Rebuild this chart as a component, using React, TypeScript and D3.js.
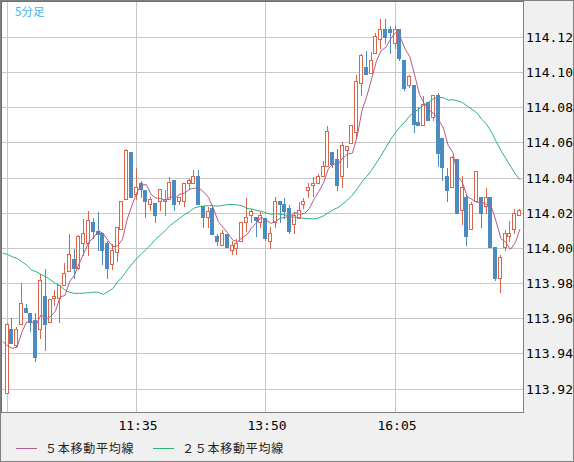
import React from 'react';
import * as d3 from 'd3';

// 5-minute candles starting at 09:20
const opens = [
  113.918, 113.954, 113.945, 113.957, 113.966, 113.963, 113.959, 113.954, 113.973, 113.958,
  113.972, 113.972, 113.979, 113.987, 113.994, 113.989, 114.003, 114.003, 114.015, 114.010,
  114.009, 114.003, 113.991, 113.998, 114.011, 114.028, 114.055, 114.031, 114.037, 114.033,
  114.025, 114.026, 114.027, 114.027, 114.028, 114.039, 114.027, 114.027, 114.037, 114.037,
  114.041, 114.024, 114.018, 114.023, 114.007, 114.002, 114.008, 113.999, 114.000, 114.004,
  114.015, 114.019, 114.018, 114.015, 114.017, 114.004, 114.015, 114.027, 114.025, 114.023,
  114.014, 114.017, 114.025, 114.033, 114.036, 114.037, 114.041, 114.047, 114.055, 114.051,
  114.041, 114.056, 114.060, 114.066, 114.094, 114.103, 114.100, 114.111, 114.119, 114.125,
  114.125, 114.117, 114.125, 114.107, 114.093, 114.093, 114.072, 114.070, 114.083, 114.075,
  114.087, 114.063, 114.041, 114.035, 114.051, 114.022, 114.029, 114.011, 114.027, 114.029,
  114.024, 114.029, 114.001, 113.983, 114.001, 114.007, 114.011, 114.019,
];
const highs = [
  113.958, 113.961, 113.956, 113.981, 113.969, 113.964, 113.964, 113.986, 113.989, 113.971,
  113.977, 113.980, 113.992, 114.009, 114.000, 114.008, 114.017, 114.022, 114.018, 114.021,
  114.009, 114.005, 114.003, 114.013, 114.027, 114.057, 114.055, 114.046, 114.039, 114.034,
  114.030, 114.026, 114.034, 114.034, 114.041, 114.039, 114.030, 114.037, 114.040, 114.045,
  114.045, 114.024, 114.024, 114.025, 114.009, 114.011, 114.009, 114.005, 114.006, 114.015,
  114.029, 114.023, 114.018, 114.021, 114.017, 114.013, 114.030, 114.027, 114.029, 114.025,
  114.021, 114.027, 114.029, 114.038, 114.041, 114.043, 114.050, 114.070, 114.055, 114.057,
  114.061, 114.058, 114.070, 114.099, 114.111, 114.113, 114.112, 114.123, 114.131, 114.131,
  114.127, 114.127, 114.125, 114.107, 114.099, 114.093, 114.081, 114.087, 114.083, 114.087,
  114.089, 114.063, 114.046, 114.053, 114.051, 114.042, 114.031, 114.027, 114.044, 114.029,
  114.035, 114.029, 114.001, 113.997, 114.011, 114.016, 114.023, 114.023,
];
const lows = [
  113.918, 113.946, 113.944, 113.957, 113.964, 113.953, 113.936, 113.949, 113.942, 113.958,
  113.968, 113.958, 113.979, 113.987, 113.983, 113.988, 113.996, 113.996, 114.006, 113.999,
  113.991, 113.983, 113.988, 113.993, 114.011, 114.028, 114.029, 114.028, 114.029, 114.018,
  114.022, 114.015, 114.022, 114.019, 114.028, 114.022, 114.025, 114.024, 114.034, 114.037,
  114.025, 114.012, 114.012, 114.008, 114.002, 114.002, 114.001, 113.997, 113.997, 114.004,
  114.010, 114.015, 114.007, 114.012, 114.005, 114.000, 114.012, 114.015, 114.017, 114.009,
  114.009, 114.017, 114.023, 114.029, 114.030, 114.037, 114.041, 114.047, 114.046, 114.033,
  114.035, 114.046, 114.060, 114.063, 114.087, 114.099, 114.100, 114.111, 114.114, 114.117,
  114.111, 114.114, 114.107, 114.090, 114.092, 114.066, 114.070, 114.070, 114.073, 114.073,
  114.047, 114.039, 114.027, 114.035, 114.020, 114.014, 114.002, 114.011, 114.027, 114.012,
  114.020, 114.001, 113.982, 113.975, 113.999, 114.004, 114.009, 114.019,
];
const closes = [
  113.957, 113.946, 113.954, 113.969, 113.964, 113.958, 113.938, 113.982, 113.957, 113.971,
  113.973, 113.979, 113.986, 113.997, 113.989, 114.007, 114.009, 114.016, 114.010, 114.008,
  113.999, 113.989, 113.999, 114.012, 114.027, 114.056, 114.029, 114.035, 114.034, 114.027,
  114.028, 114.019, 114.034, 114.028, 114.038, 114.025, 114.029, 114.037, 114.039, 114.041,
  114.025, 114.018, 114.021, 114.008, 114.004, 114.009, 114.001, 114.002, 114.003, 114.015,
  114.018, 114.021, 114.016, 114.019, 114.006, 114.009, 114.027, 114.025, 114.021, 114.010,
  114.019, 114.022, 114.027, 114.035, 114.037, 114.041, 114.047, 114.067, 114.048, 114.036,
  114.059, 114.058, 114.070, 114.095, 114.110, 114.099, 114.107, 114.121, 114.125, 114.120,
  114.123, 114.125, 114.108, 114.091, 114.098, 114.071, 114.070, 114.082, 114.073, 114.087,
  114.054, 114.046, 114.033, 114.052, 114.020, 114.035, 114.007, 114.025, 114.044, 114.020,
  114.029, 114.001, 113.983, 113.995, 114.009, 114.009, 114.020, 114.022,
];

// moving-average values before enough visible bars exist, index -1 onward
const ma5Head = [113.947, 113.9446, 113.9431, 113.9438, 113.9524];
const ma25Head = [
  113.9972, 113.9966, 113.9952, 113.9943, 113.9924, 113.9905, 113.9877, 113.9867, 113.9852, 113.9838,
  113.982, 113.9801, 113.9787, 113.9763, 113.975, 113.9744, 113.9744, 113.9746, 113.9747, 113.9751,
  113.975, 113.9738, 113.9754, 113.9772, 113.981,
];

const priceTicks = [113.92, 113.94, 113.96, 113.98, 114.0, 114.02, 114.04, 114.06, 114.08, 114.1, 114.12];
const timeGridIdx = [0, 27, 54, 81];
const timeLabelIdx = [27, 54, 81];
const timeLabels = ['11:35', '13:50', '16:05'];
const legendLabels = ['５本移動平均線', '２５本移動平均線'];
const periodLabel = '5分足';

const W = 574;
const H = 462;
const PL = 1, PT = 1, PR = 523, PB = 412;

const RED = '#dd6549';
const BLUE = '#4a8bc2';
const MA5C = '#b35c8c';
const MA25C = '#2db374';
const GRID = '#c8c8c8';
const FRAME = '#808080';

function movingAvg(period: number, head: number[]) {
  const pts: [number, number][] = [];
  head.forEach((v, k) => pts.push([k - 1, v]));
  const start = head.length - 1;
  for (let i = start; i < closes.length; i++) {
    const s = d3.sum(closes.slice(i - period + 1, i + 1));
    pts.push([i, s / period]);
  }
  return pts;
}

export default function App() {
  const x = d3.scaleLinear().domain([0, 81]).range([7, 395]);
  const y = d3.scaleLinear().domain([113.92, 114.12]).range([389, 37.4]);
  const px = (i: number) => Math.floor(x(i)) + 0.5;
  const py = (v: number) => Math.round(y(v)) + 0.5;

  const ma5 = movingAvg(5, ma5Head);
  const ma25 = movingAvg(25, ma25Head);
  const line = d3
    .line<[number, number]>()
    .x((d) => x(d[0]) + 0.5)
    .y((d) => y(d[1]));

  const mono = '"DejaVu Sans Mono", "Liberation Mono", monospace';
  const cjk = '"Noto Sans CJK JP", "Noto Sans", sans-serif';

  return (
    <svg
      width={W}
      height={H}
      style={{ position: 'fixed', left: 0, top: 0, display: 'block' }}
      xmlns="http://www.w3.org/2000/svg"
    >
      <defs>
        <clipPath id="plotClip">
          <rect x={PL + 1} y={PT + 1} width={PR - PL - 1} height={PB - PT - 1} />
        </clipPath>
      </defs>
      <rect x={0} y={0} width={W} height={H} fill="#f0f0f0" />
      <rect x={PL} y={PT} width={PR - PL} height={PB - PT} fill="#ffffff" />

      {/* grid */}
      <g shapeRendering="crispEdges">
        {priceTicks.map((t) => (
          <line key={t} x1={PL} x2={PR} y1={Math.floor(y(t)) + 0.5} y2={Math.floor(y(t)) + 0.5} stroke={GRID} strokeWidth={1} />
        ))}
        {timeGridIdx.map((i) => (
          <line key={i} x1={px(i)} x2={px(i)} y1={PT} y2={PB} stroke={GRID} strokeWidth={1} />
        ))}
      </g>

      {/* candles */}
      <g clipPath="url(#plotClip)" shapeRendering="crispEdges">
        {closes.map((c, i) => {
          const o = opens[i];
          const cx = px(i);
          const up = c >= o;
          const top = py(Math.max(o, c));
          let bot = py(Math.min(o, c));
          if (bot - top < 1) bot = top + 1;
          const yh = py(highs[i]);
          const yl = py(lows[i]);
          if (up) {
            return (
              <g key={i}>
                <line x1={cx} x2={cx} y1={yh} y2={yl} stroke={RED} strokeWidth={1} />
                <rect x={cx - 2} y={top} width={3} height={bot - top} fill="#ffffff" stroke={RED} strokeWidth={1} />
              </g>
            );
          }
          return (
            <g key={i}>
              <line x1={cx} x2={cx} y1={yh} y2={yl} stroke={BLUE} strokeWidth={1} />
              <rect x={cx - 2.5} y={top - 0.5} width={4} height={bot - top + 1} fill={BLUE} />
            </g>
          );
        })}
      </g>

      {/* moving averages */}
      <g clipPath="url(#plotClip)" fill="none">
        <path d={line(ma25) || ''} stroke={MA25C} strokeWidth={1} />
        <path d={line(ma5) || ''} stroke={MA5C} strokeWidth={1} />
      </g>

      {/* plot frame */}
      <g shapeRendering="crispEdges" fill="none">
        <line x1={PR + 0.5} x2={PR + 0.5} y1={PT} y2={PB + 1} stroke={FRAME} />
        <line x1={PL} x2={PR + 1} y1={PB + 0.5} y2={PB + 0.5} stroke={FRAME} />
        <line x1={PL + 0.5} x2={PL + 0.5} y1={0} y2={PB + 1} stroke="#6e6e6e" />
        <line x1={0} x2={PR + 1} y1={PT + 0.5} y2={PT + 0.5} stroke="#6e6e6e" />
        <rect x={0.5} y={0.5} width={W - 1} height={H - 1} stroke={FRAME} />
      </g>

      <text x={15} y={16} fill="#3fb3ec" fontSize={11.5} fontFamily={cjk}>
        {periodLabel}
      </text>

      {/* price labels */}
      {priceTicks.map((t) => (
        <text key={t} x={526} y={y(t) + 4.5} fontSize={13} fontFamily={mono} fill="#000">
          {t.toFixed(2)}
        </text>
      ))}

      {/* time labels */}
      {timeLabelIdx.map((i, k) => (
        <text key={i} x={px(i) + 1.5} y={430} textAnchor="middle" fontSize={13} fontFamily={mono} fill="#000">
          {timeLabels[k]}
        </text>
      ))}

      {/* legend */}
      <g>
        <line x1={16} x2={37} y1={448.5} y2={448.5} stroke={MA5C} strokeWidth={1} />
        <text x={45} y={453} fontSize={12} letterSpacing={0.75} fontFamily={cjk} fill="#222">
          {legendLabels[0]}
        </text>
        <line x1={153} x2={174} y1={448.5} y2={448.5} stroke={MA25C} strokeWidth={1} />
        <text x={182} y={453} fontSize={12} letterSpacing={0.75} fontFamily={cjk} fill="#222">
          {legendLabels[1]}
        </text>
      </g>
    </svg>
  );
}
